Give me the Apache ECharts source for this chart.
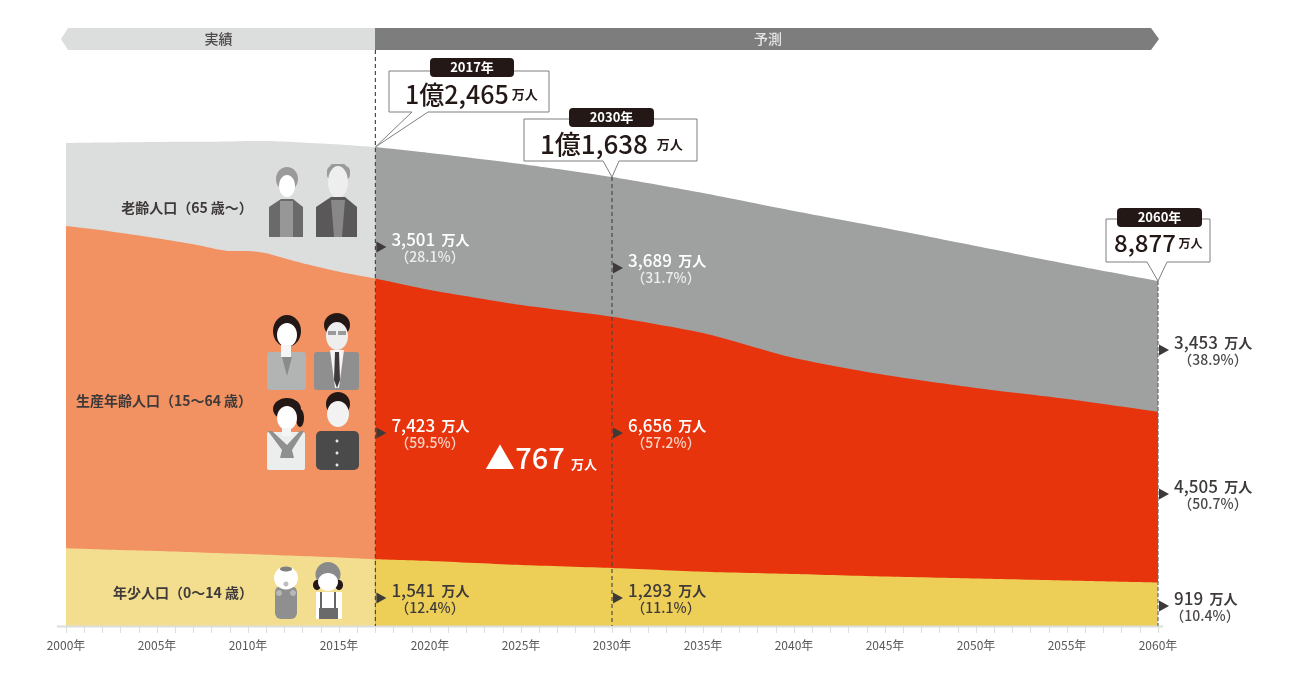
<!DOCTYPE html>
<html>
<head>
<meta charset="utf-8">
<style>
html,body{margin:0;padding:0;background:#fff}
#main{width:1291px;height:682px}
</style>
</head>
<body>
<div id="main"></div>
<script src="https://cdn.jsdelivr.net/npm/echarts@6/dist/echarts.min.js"></script>
<script>
// 実績 (heights as drawn in the picture)
var histYears = [2000,2002,2005,2007,2009,2010,2011,2013,2015,2017];
var histYoung = [2020,1989,1950,1919,1885,1872,1854,1820,1781,1734];
var histWork  = [8380,8299,8130,8005,7865,7878,7836,7610,7431,7301];
var histOld   = [2158,2283,2504,2665,2847,2860,2920,3141,3307,3419];
// 予測
var foreYears = [2017,2020,2025,2030,2035,2040,2045,2050,2055,2060];
var foreYoung = [1734,1690,1586,1508,1412,1352,1287,1235,1183,1131];
var foreWork  = [7301,7046,6760,6534,6206,5616,5239,4953,4719,4441];
var foreOld   = [3419,3562,3666,3632,3640,3822,3822,3692,3510,3398];
// labels
var markYears = [2017,2030,2060];
var oldNum  = ['3,501','3,689','3,453'];
var oldPct  = ['（28.1%）','（31.7%）','（38.9%）'];
var workNum = ['7,423','6,656','4,505'];
var workPct = ['（59.5%）','（57.2%）','（50.7%）'];
var youngNum = ['1,541','1,293','919'];
var youngPct = ['（12.4%）','（11.1%）','（10.4%）'];

var FONT = '"Noto Sans CJK JP","Noto Sans",sans-serif';
var chart = echarts.init(document.getElementById('main'));

// stack by hand: value/value axes would stack on x
function area(name, xs, lists, color) {
  var data = xs.map(function (x, i) {
    var total = 0;
    lists.forEach(function (l) { total += l[i]; });
    return [x, total];
  });
  return {
    name: name, type: 'line', data: data, smooth: 0.2,
    showSymbol: false, symbol: 'none', silent: true, animation: false,
    lineStyle: { width: 0 }, areaStyle: { color: color, opacity: 1 }
  };
}

chart.setOption({
  animation: false,
  grid: { left: 66, right: 133, top: 126, height: 500 },
  xAxis: {
    type: 'value', min: 2000, max: 2060, interval: 5,
    axisLine: { show: false },
    axisTick: { show: true, length: 7, lineStyle: { color: '#dcdddd', width: 1 } },
    minorTick: { show: true, splitNumber: 5, length: 7, lineStyle: { color: '#dcdddd', width: 1 } },
    splitLine: { show: false },
    axisLabel: {
      margin: 13, fontSize: 12, color: '#595757', fontFamily: FONT, showMinLabel: true, showMaxLabel: true,
      formatter: function (v) { return v + '年'; }
    }
  },
  yAxis: { type: 'value', min: 0, max: 13000, show: false, splitLine: { show: false } },
  series: [
    area('老齢人口', histYears, [histYoung, histWork, histOld], '#dcdddd'),
    area('生産年齢人口', histYears, [histYoung, histWork], '#f29263'),
    area('年少人口', histYears, [histYoung], '#f3de8f'),
    area('老齢人口（予測）', foreYears, [foreYoung, foreWork, foreOld], '#9fa0a0'),
    area('生産年齢人口（予測）', foreYears, [foreYoung, foreWork], '#e8340c'),
    area('年少人口（予測）', foreYears, [foreYoung], '#edcf58')
  ]
});

function px(year, v) { return chart.convertToPixel({ xAxisIndex: 0, yAxisIndex: 0 }, [year, v]); }
function sum(a, b, c, i) { return a[i] + b[i] + c[i]; }

var g = [];
function add(el) { el.z = 20; el.silent = true; g.push(el); }
function poly(points, fill, stroke) {
  add({ type: 'polygon', shape: { points: points }, style: { fill: fill, stroke: stroke || null, lineWidth: stroke ? 1 : 0 } });
}
function rect(x, y, w, h, fill, r) {
  add({ type: 'rect', shape: { x: x, y: y, width: w, height: h, r: r || 0 }, style: { fill: fill } });
}
function oval(cx, cy, rx, ry, fill) {
  add({ type: 'ellipse', shape: { cx: cx, cy: cy, rx: rx, ry: ry }, style: { fill: fill } });
}
function line(x1, y1, x2, y2, color, w, dash) {
  add({ type: 'line', shape: { x1: x1, y1: y1, x2: x2, y2: y2 }, style: { stroke: color, lineWidth: w, lineDash: dash || null } });
}
function txt(x, y, s, size, color, weight, align) {
  add({ type: 'text', x: x, y: y, style: {
    text: s, fontSize: size, fill: color, fontWeight: weight || 'normal', fontFamily: FONT,
    align: align || 'center', verticalAlign: 'middle'
  } });
}
function rich(x, y, s, size, usize, color, gap) {
  add({ type: 'text', x: x, y: y, style: {
    text: '{n|' + s + '}{u|' + (gap || ' ') + '万人}', align: 'left', verticalAlign: 'middle', fill: color,
    rich: {
      n: { fontSize: size, fontWeight: 500, fill: color, fontFamily: FONT },
      u: { fontSize: usize, fontWeight: 'bold', fill: color, fontFamily: FONT }
    }
  } });
}

// baseline
line(57, 626.5, 1163, 626.5, '#dcdddd', 2);

// 実績 / 予測 banners
poly([[61,39],[68,28],[375,28],[375,50],[68,50]], '#dcdddd');
poly([[375,28],[1151,28],[1159,39],[1151,50],[375,50]], '#7d7d7d');
txt(218.5, 39, '実績', 14, '#4c4948', 500);
txt(768, 39, '予測', 14, '#e6e6e6', 500);

// dashed year lines
var base = px(2000, 0)[1];
var x17 = px(2017, 0)[0], x30 = px(2030, 0)[0], x60 = px(2060, 0)[0];
var yr30 = px(2030, sum(foreYoung, foreWork, foreOld, 3))[1];
var yr60 = px(2060, sum(foreYoung, foreWork, foreOld, 9))[1];
var yr17 = px(2017, sum(foreYoung, foreWork, foreOld, 0))[1];
line(x17, 50, x17, base, '#4c4948', 1.2, [4, 3]);
line(x30, yr30, x30, base, '#4c4948', 1.2, [4, 3]);
line(x60, yr60, x60, base, '#6a6a6a', 1.2, [4, 2]);

// callouts
function pill(x, y, w, s) {
  rect(x, y, w, 19, '#231815', 4);
  txt(x + w / 2, y + 9.5, s, 13, '#fff', 'bold');
}
poly([[389,71],[549,71],[549,112],[428,112],[x17,yr17],[412,112],[389,112]], '#fff', '#7f7f7f');
pill(430, 58, 84, '2017年');
rich(405, 94, '1億2,465', 25, 13, '#231815');
poly([[524,119],[697,119],[697,161],[619,161],[x30,yr30],[603,161],[524,161]], '#fff', '#7f7f7f');
pill(569, 108, 85, '2030年');
rich(540, 144, '1億1,638', 26, 13, '#231815', '   ');
poly([[1106,219],[1210,219],[1210,262],[1167,262],[x60,yr60],[1147,262],[1106,262]], '#fff', '#7f7f7f');
pill(1117, 208, 85, '2060年');
rich(1114, 243, '8,877', 24, 12, '#231815');

// value labels
function valueLabel(x, y, num, pct, color, pctColor, pctX) {
  poly([[x + 1, y - 5.5], [x + 11, y], [x + 1, y + 5.5]], '#3e3a39');
  rich(x + 16, y - 7, num, 17, 14, color, '  ');
  txt(pctX, y + 10, pct, 14, pctColor, 500);
}
valueLabel(x17, 247, oldNum[0], oldPct[0], '#fff', '#eeeeee', 430);
valueLabel(x30, 268, oldNum[1], oldPct[1], '#fff', '#eeeeee', 666);
valueLabel(x60, 350, oldNum[2], oldPct[2], '#3e3a39', '#4c4948', 1213);
valueLabel(x17, 433, workNum[0], workPct[0], '#fff', '#f8d4c8', 430);
valueLabel(x30, 433, workNum[1], workPct[1], '#fff', '#f8d4c8', 666);
valueLabel(x60, 494, workNum[2], workPct[2], '#3e3a39', '#4c4948', 1213);
valueLabel(x17, 598, youngNum[0], youngPct[0], '#3e3a39', '#3e3a39', 430);
valueLabel(x30, 598, youngNum[1], youngPct[1], '#3e3a39', '#3e3a39', 666);
valueLabel(x60, 606, youngNum[2], youngPct[2], '#3e3a39', '#4c4948', 1205);

// 767 drop
txt(500, 458, '▲', 30, '#fff');
txt(540, 458, '767', 29, '#fff', 500);
txt(584, 464, '万人', 13, '#fff', 'bold');

// age group names
txt(187, 208, '老齢人口（65 歳〜）', 14, '#3e3a39', 'bold');
txt(164, 401, '生産年齢人口（15〜64 歳）', 14, '#3e3a39', 'bold');
txt(183, 593, '年少人口（0〜14 歳）', 14, '#3e3a39', 'bold');

// icons: elderly
oval(287, 179, 11, 12, '#9a9a9a');
oval(287, 186, 8, 11, '#fff');
poly([[269,207],[281,199],[293,199],[303,207],[303,237],[269,237]], '#6a6a6a');
rect(280, 201, 13, 36, '#979797');
rect(330, 164, 16, 6, '#9a9a9a', 3);
rect(327, 166, 23, 14, '#9a9a9a', 5);
oval(338, 182, 10, 16, '#eeeeee');
poly([[316,207],[331,197],[345,197],[357,207],[357,237],[316,237]], '#5a5858');
poly([[331,200],[345,200],[342,237],[334,237]], '#888888');

// icons: adults
oval(287, 331, 14, 16, '#231815');
oval(287, 335, 10, 12, '#fff');
rect(267, 352, 39, 38, '#b2b3b3', 3);
rect(281, 345, 10, 12, '#f5f5f5');
poly([[282,357],[292,357],[287,376]], '#8a8a8a');
oval(337, 325, 13, 12, '#231815');
oval(337, 336, 11, 14, '#eeeeee');
rect(328, 331, 8, 4, '#9a9a9a');
rect(338, 331, 8, 4, '#9a9a9a');
rect(314, 352, 45, 38, '#8f8f8f', 3);
poly([[330,350],[344,350],[339,388],[335,388]], '#f5f5f5');
poly([[335,352],[339,352],[340,380],[337,388],[334,380]], '#3e3a39');

// icons: students
oval(287, 409, 14, 11, '#231815');
oval(300, 418, 4, 9, '#231815');
oval(287, 418, 10, 12, '#fff');
rect(267, 432, 38, 38, '#eceded', 2);
rect(282, 428, 9, 8, '#f5f5f5');
poly([[268,431],[272,431],[287,445],[300,431],[304,431],[292,450],[294,458],[280,458],[282,450]], '#8f8f8f');
oval(338, 404, 12, 12, '#231815');
oval(338, 414, 11, 13, '#f2f2f2');
rect(316, 431, 43, 39, '#4a4a4a', 5);
oval(337, 441, 1.5, 1.5, '#e6e6e6');
oval(337, 453, 1.5, 1.5, '#e6e6e6');
oval(337, 465, 1.5, 1.5, '#e6e6e6');

// icons: children
rect(275, 586, 22, 33, '#8f8f8f', 6);
oval(286, 578, 12, 11.5, '#fff');
oval(286, 569, 6, 2.5, '#7f7f7f');
oval(286, 584, 2.5, 2.5, '#bcbcbc');
oval(279, 593, 3, 3, '#b8b8b8');
oval(293, 593, 3, 3, '#b8b8b8');
oval(328, 574.5, 12.5, 12.5, '#8a8a8a');
oval(317, 585, 4, 5, '#231815');
oval(339, 585, 4, 5, '#231815');
oval(328, 582, 10, 9, '#fff');
rect(316, 592, 26, 27, '#fff');
rect(320, 592, 2, 16, '#666');
rect(334, 592, 2, 16, '#666');
rect(319, 608, 19, 11, '#6a6a6a');

chart.setOption({ graphic: g });
</script>
</body>
</html>
